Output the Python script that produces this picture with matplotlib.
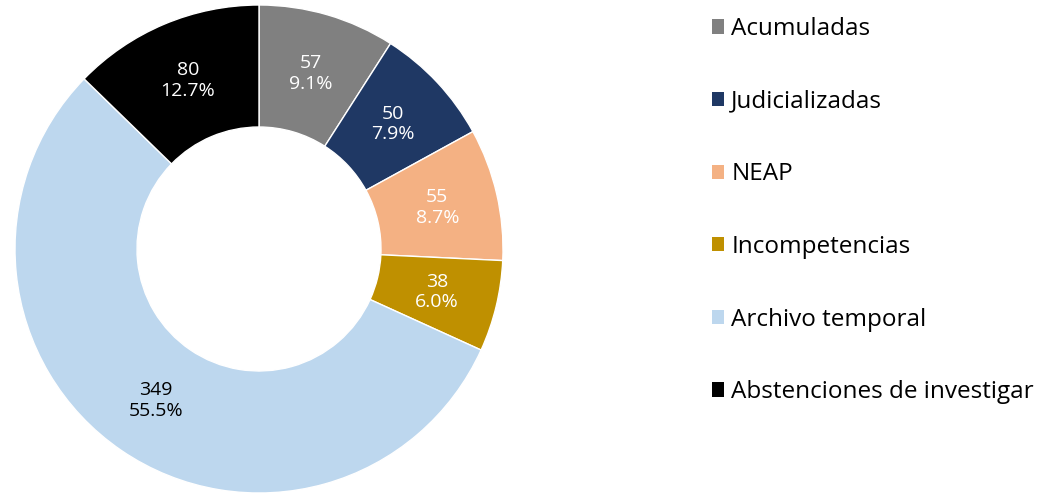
import numpy as np
import matplotlib.pyplot as plt
from matplotlib.patches import Patch

categories = ['Acumuladas', 'Judicializadas', 'NEAP', 'Incompetencias',
              'Archivo temporal', 'Abstenciones de investigar']
values = [57, 50, 55, 38, 349, 80]
colors = ['#808080', '#1F3864', '#F4B183', '#BF9000', '#BDD7EE', '#000000']
label_colors = ['white', 'white', 'white', 'white', 'black', 'white']

plt.rcParams['font.family'] = ['Open Sans', 'DejaVu Sans']

fig = plt.figure(figsize=(10.4, 4.95), dpi=100)
ax = fig.add_axes([15 / 1040, 2 / 495, 488 / 1040, 488 / 495])

total = sum(values)

wedges = ax.pie(values, colors=colors, startangle=90, counterclock=False,
                wedgeprops=dict(width=0.5, edgecolor='white', linewidth=1))[0]

# labels in the middle of the ring
for w, v, c in zip(wedges, values, label_colors):
    ang = np.deg2rad((w.theta1 + w.theta2) / 2)
    r = 0.75
    ax.text(r * np.cos(ang), r * np.sin(ang), f'{v}\n{v / total * 100:.1f}%',
            ha='center', va='center', color=c, fontsize=14, linespacing=1.2)
ax.set_aspect('equal')
ax.set_xlim(-1, 1)
ax.set_ylim(-1, 1)
ax.axis('off')

handles = [Patch(facecolor=c, edgecolor='none') for c in colors]
fig.legend(handles, categories, loc='upper left', bbox_to_anchor=(697 / 1040, 0.995),
           frameon=False, fontsize=17.5, labelspacing=2.0, handlelength=0.53,
           handleheight=0.53, handletextpad=0.28, borderaxespad=0.2)

fig.savefig('out.png', dpi=100)
